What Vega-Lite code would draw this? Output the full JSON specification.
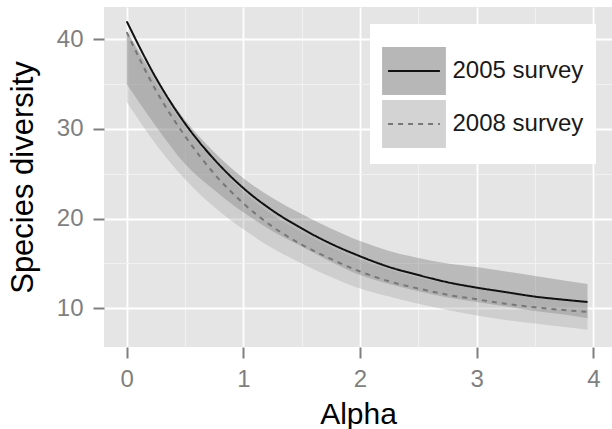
{
  "$schema": "https://vega.github.io/schema/vega-lite/v6.json",
  "autosize": {"type": "none"},
  "padding": {"left": 104, "top": 7, "right": 0, "bottom": 82},
  "width": 508,
  "height": 340,
  "background": "white",
  "config": {
    "view": {"fill": "#e5e5e5", "stroke": null},
    "font": "Liberation Sans"
  },
  "datasets": {
    "bands": [
      {"alpha": 0, "band": "2005 survey", "lo": 35.0, "hi": 40.9},
      {"alpha": 0.25, "band": "2005 survey", "lo": 30.3, "hi": 35.6},
      {"alpha": 0.5, "band": "2005 survey", "lo": 26.1, "hi": 31.0},
      {"alpha": 0.75, "band": "2005 survey", "lo": 23.2, "hi": 27.4},
      {"alpha": 1, "band": "2005 survey", "lo": 20.7, "hi": 24.5},
      {"alpha": 1.25, "band": "2005 survey", "lo": 18.6, "hi": 22.3},
      {"alpha": 1.5, "band": "2005 survey", "lo": 16.9, "hi": 20.5},
      {"alpha": 1.75, "band": "2005 survey", "lo": 15.2, "hi": 18.9},
      {"alpha": 2, "band": "2005 survey", "lo": 13.7, "hi": 17.5},
      {"alpha": 2.25, "band": "2005 survey", "lo": 12.7, "hi": 16.4},
      {"alpha": 2.5, "band": "2005 survey", "lo": 11.9, "hi": 15.6},
      {"alpha": 2.75, "band": "2005 survey", "lo": 11.2, "hi": 15.0},
      {"alpha": 3, "band": "2005 survey", "lo": 10.7, "hi": 14.6},
      {"alpha": 3.25, "band": "2005 survey", "lo": 10.2, "hi": 14.1},
      {"alpha": 3.5, "band": "2005 survey", "lo": 9.7, "hi": 13.6},
      {"alpha": 3.75, "band": "2005 survey", "lo": 9.3, "hi": 13.1},
      {"alpha": 3.95, "band": "2005 survey", "lo": 8.9, "hi": 12.7},
      {"alpha": 0, "band": "2008 survey", "lo": 33.0, "hi": 40.9},
      {"alpha": 0.25, "band": "2008 survey", "lo": 28.3, "hi": 35.0},
      {"alpha": 0.5, "band": "2008 survey", "lo": 24.4, "hi": 30.2},
      {"alpha": 0.75, "band": "2008 survey", "lo": 21.3, "hi": 26.3},
      {"alpha": 1, "band": "2008 survey", "lo": 18.8, "hi": 23.0},
      {"alpha": 1.25, "band": "2008 survey", "lo": 16.7, "hi": 20.4},
      {"alpha": 1.5, "band": "2008 survey", "lo": 15.0, "hi": 18.5},
      {"alpha": 1.75, "band": "2008 survey", "lo": 13.5, "hi": 16.8},
      {"alpha": 2, "band": "2008 survey", "lo": 12.2, "hi": 15.4},
      {"alpha": 2.25, "band": "2008 survey", "lo": 11.3, "hi": 14.3},
      {"alpha": 2.5, "band": "2008 survey", "lo": 10.5, "hi": 13.4},
      {"alpha": 2.75, "band": "2008 survey", "lo": 9.8, "hi": 12.7},
      {"alpha": 3, "band": "2008 survey", "lo": 9.2, "hi": 12.2},
      {"alpha": 3.25, "band": "2008 survey", "lo": 8.7, "hi": 11.7},
      {"alpha": 3.5, "band": "2008 survey", "lo": 8.3, "hi": 11.3},
      {"alpha": 3.75, "band": "2008 survey", "lo": 7.9, "hi": 11.0},
      {"alpha": 3.95, "band": "2008 survey", "lo": 7.6, "hi": 10.8}
    ],
    "lines": [
      {"alpha": 0, "series": "2005 survey", "est": 42.0},
      {"alpha": 0.25, "series": "2005 survey", "est": 35.7},
      {"alpha": 0.5, "series": "2005 survey", "est": 30.6},
      {"alpha": 0.75, "series": "2005 survey", "est": 26.6},
      {"alpha": 1, "series": "2005 survey", "est": 23.4},
      {"alpha": 1.25, "series": "2005 survey", "est": 20.9},
      {"alpha": 1.5, "series": "2005 survey", "est": 18.9},
      {"alpha": 1.75, "series": "2005 survey", "est": 17.2},
      {"alpha": 2, "series": "2005 survey", "est": 15.8},
      {"alpha": 2.25, "series": "2005 survey", "est": 14.6},
      {"alpha": 2.5, "series": "2005 survey", "est": 13.7},
      {"alpha": 2.75, "series": "2005 survey", "est": 12.9},
      {"alpha": 3, "series": "2005 survey", "est": 12.3},
      {"alpha": 3.25, "series": "2005 survey", "est": 11.8},
      {"alpha": 3.5, "series": "2005 survey", "est": 11.3},
      {"alpha": 3.75, "series": "2005 survey", "est": 10.95},
      {"alpha": 3.95, "series": "2005 survey", "est": 10.7},
      {"alpha": 0, "series": "2008 survey", "est": 40.8},
      {"alpha": 0.25, "series": "2008 survey", "est": 34.3},
      {"alpha": 0.5, "series": "2008 survey", "est": 29.2},
      {"alpha": 0.75, "series": "2008 survey", "est": 25.0},
      {"alpha": 1, "series": "2008 survey", "est": 21.7},
      {"alpha": 1.25, "series": "2008 survey", "est": 19.1},
      {"alpha": 1.5, "series": "2008 survey", "est": 17.1},
      {"alpha": 1.75, "series": "2008 survey", "est": 15.5},
      {"alpha": 2, "series": "2008 survey", "est": 14.1},
      {"alpha": 2.25, "series": "2008 survey", "est": 13.0},
      {"alpha": 2.5, "series": "2008 survey", "est": 12.2},
      {"alpha": 2.75, "series": "2008 survey", "est": 11.5},
      {"alpha": 3, "series": "2008 survey", "est": 11.0},
      {"alpha": 3.25, "series": "2008 survey", "est": 10.5},
      {"alpha": 3.5, "series": "2008 survey", "est": 10.1},
      {"alpha": 3.75, "series": "2008 survey", "est": 9.8},
      {"alpha": 3.95, "series": "2008 survey", "est": 9.6}
    ]
  },
  "layer": [
    {
      "data": {"name": "bands"},
      "mark": {"type": "area", "fillOpacity": 0.3, "interpolate": "monotone"},
      "encoding": {
        "x": {
          "field": "alpha", "type": "quantitative",
          "scale": {"domain": [-0.195, 4.16], "nice": false, "zero": false},
          "axis": {"orient": "bottom", "values": [0.5, 1.5, 2.5, 3.5], "grid": true, "gridColor": "#f2f2f2", "gridWidth": 0.9, "labels": false, "ticks": false, "domain": false, "title": null}
        },
        "y": {
          "field": "lo", "type": "quantitative",
          "scale": {"domain": [5.68, 43.6], "nice": false, "zero": false},
          "axis": {"orient": "left", "values": [15, 25, 35], "grid": true, "gridColor": "#f2f2f2", "gridWidth": 0.9, "labels": false, "ticks": false, "domain": false, "title": null}
        },
        "y2": {"field": "hi"},
        "fill": {
          "field": "band", "type": "nominal",
          "scale": {"range": ["#555555", "#999999"]},
          "legend": {
            "orient": "none", "legendX": 266, "legendY": 17,
            "title": " ", "titleFontSize": 10, "titlePadding": 0,
            "padding": 12, "rowPadding": -3, "fillColor": "white",
            "symbolType": "M-1.33,-1H1.33V1H-1.33Z", "symbolSize": 2304,
            "symbolStrokeColor": "transparent", "symbolStrokeWidth": 2,
            "symbolOffset": 7, "symbolOpacity": 0.42,
            "labelFontSize": 24, "labelColor": "#1a1a1a", "labelOffset": 13.5,
            "zindex": 0
          }
        }
      }
    },
    {
      "data": {"name": "lines"},
      "mark": {"type": "line", "strokeWidth": 2, "interpolate": "monotone"},
      "encoding": {
        "x": {
          "field": "alpha", "type": "quantitative",
          "scale": {"domain": [-0.195, 4.16], "nice": false, "zero": false},
          "axis": {
            "orient": "bottom", "values": [0, 1, 2, 3, 4], "title": "Alpha",
            "grid": true, "gridColor": "white", "gridWidth": 1.8, "domain": false,
            "tickColor": "#7f7f7f", "tickWidth": 2, "tickSize": 11,
            "labelFontSize": 24, "labelColor": "#7f7f7f", "labelPadding": 9, "labelFlush": false,
            "titleFontSize": 30, "titleColor": "black", "titleFontWeight": "normal", "titlePadding": 8
          }
        },
        "y": {
          "field": "est", "type": "quantitative",
          "scale": {"domain": [5.68, 43.6], "nice": false, "zero": false},
          "axis": {
            "orient": "left", "values": [10, 20, 30, 40], "title": "Species diversity",
            "grid": true, "gridColor": "white", "gridWidth": 1.8, "domain": false,
            "tickColor": "#7f7f7f", "tickWidth": 2, "tickSize": 11,
            "labelFontSize": 24, "labelColor": "#7f7f7f", "labelPadding": 10, "labelFlush": false,
            "titleFontSize": 31, "titleColor": "black", "titleFontWeight": "normal", "titlePadding": 17
          }
        },
        "stroke": {
          "field": "series", "type": "nominal",
          "scale": {"range": ["#111111", "#777777"]},
          "legend": {
            "orient": "none", "legendX": 266, "legendY": 17,
            "title": " ", "titleFontSize": 10, "titlePadding": 0,
            "padding": 12, "rowPadding": -3,
            "symbolType": "M-1.08,-1M-1.08,0H1.08M-1.08,1", "symbolSize": 2304,
            "symbolStrokeWidth": 2, "symbolOffset": 7,
            "labelFontSize": 24, "labelExpr": "''", "labelOffset": 13.5,
            "zindex": 1
          }
        },
        "strokeDash": {
          "field": "series", "type": "nominal",
          "scale": {"range": [[1, 0], [5, 5]]},
          "legend": {
            "orient": "none", "legendX": 266, "legendY": 17,
            "title": " ", "titleFontSize": 10, "titlePadding": 0,
            "padding": 12, "rowPadding": -3,
            "symbolType": "M-1.08,-1M-1.08,0H1.08M-1.08,1", "symbolSize": 2304,
            "symbolStrokeWidth": 2, "symbolOffset": 7,
            "labelFontSize": 24, "labelExpr": "''", "labelOffset": 13.5,
            "zindex": 1
          }
        }
      }
    }
  ],
  "resolve": {"axis": {"x": "independent", "y": "independent"}}
}
